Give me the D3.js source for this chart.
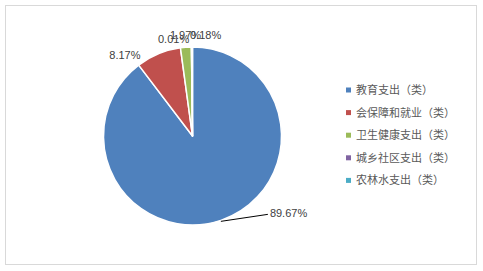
<!DOCTYPE html>
<html>
<head>
<meta charset="utf-8">
<script src="https://cdn.jsdelivr.net/npm/d3@7"></script>
<style>
  body { margin: 0; background: #fff; }
</style>
</head>
<body>
<script>
// pie of spending shares
let w = 483;
let h = 271;

let categories = ['教育支出（类）', '会保障和就业（类）', '卫生健康支出（类）', '城乡社区支出（类）', '农林水支出（类）'];
let values = [89.67, 8.17, 1.97, 0.01, 0.18];
let labels = ['89.67%', '8.17%', '1.97%', '0.01%', '0.18%'];
let colors = ['#4f81bd', '#c0504d', '#9bbb59', '#8064a2', '#4bacc6'];

// label nudge from the slice's outer mid point (dx, dy, anchor)
let nudge = [[49, -3, 'start'], [-18, 5, 'end'], [-16, -8, 'start'], [-33.5, -4, 'start'], [-2, -8, 'start']];

let cx = 192.5, cy = 136, r = 89;

let svg = d3.select('body').append('svg')
    .attr('width', w)
    .attr('height', h);

svg.append('rect')
    .attr('x', 5.5).attr('y', 5.5)
    .attr('width', 471).attr('height', 259)
    .attr('fill', '#fff')
    .attr('stroke', '#d9d9d9');

let pie = d3.pie().sort(null).value(d => d);
let arcs = pie(values);
let arc = d3.arc().innerRadius(0).outerRadius(r);

let g = svg.append('g').attr('transform', `translate(${cx},${cy})`);

g.selectAll('path')
    .data(arcs)
    .enter()
    .append('path')
    .attr('d', arc)
    .attr('fill', (d, i) => colors[i])
    .attr('stroke', '#fff')
    .attr('stroke-width', 1.5)
    .attr('stroke-linejoin', 'round');

function outerPoint(d) {
    let a = (d.startAngle + d.endAngle) / 2;
    return [r * Math.sin(a), -r * Math.cos(a)];
}

// leader line for the big slice
let p0 = outerPoint(arcs[0]);
g.append('line')
    .attr('x1', p0[0]).attr('y1', p0[1] + 1)
    .attr('x2', p0[0] + nudge[0][0] - 2).attr('y2', p0[1] + nudge[0][1] - 3)
    .attr('stroke', '#000')
    .attr('stroke-width', 1);

g.selectAll('text.lbl')
    .data(arcs)
    .enter()
    .append('text')
    .attr('class', 'lbl')
    .attr('x', (d, i) => outerPoint(d)[0] + nudge[i][0])
    .attr('y', (d, i) => outerPoint(d)[1] + nudge[i][1])
    .attr('text-anchor', (d, i) => nudge[i][2])
    .attr('font-family', 'Liberation Sans, Arial, sans-serif')
    .attr('font-size', 11)
    .attr('fill', '#404040')
    .text((d, i) => labels[i]);

// legend
let legend = svg.append('g').attr('transform', 'translate(346,90)');
let rowH = 22.6;

legend.selectAll('rect')
    .data(categories)
    .enter()
    .append('rect')
    .attr('x', 0)
    .attr('y', (d, i) => i * rowH - 2.5)
    .attr('width', 5)
    .attr('height', 5)
    .attr('fill', (d, i) => colors[i]);

legend.selectAll('text')
    .data(categories)
    .enter()
    .append('text')
    .attr('x', 10)
    .attr('y', (d, i) => i * rowH + 4)
    .attr('font-family', 'Noto Sans CJK SC, sans-serif')
    .attr('font-size', 11)
    .attr('fill', '#595959')
    .text(d => d);
</script>
</body>
</html>
